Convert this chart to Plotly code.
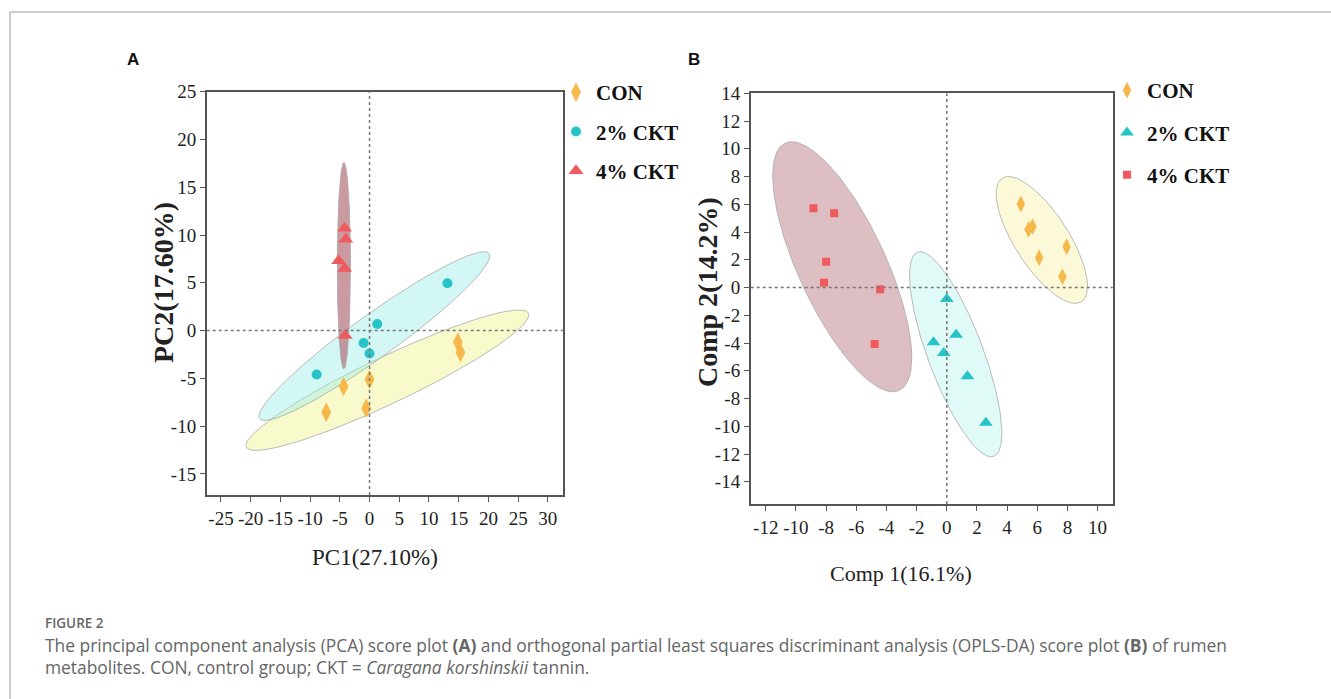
import numpy as np
import plotly.graph_objects as go

FIG_W, FIG_H = 1331, 699

groups = ["CON", "2% CKT", "4% CKT"]
colors = ["#F7B84B", "#27C4C7", "#EF5A5E"]

# ---------------- Panel A : PCA scores ----------------
pca_con_x = [14.85, 15.3, -4.37, 0.0, -7.29, -0.56]
pca_con_y = [-1.2, -2.3, -5.85, -5.12, -8.54, -8.12]
pca_ckt2_x = [13.1, 1.3, -1.0, 0.0, -8.9]
pca_ckt2_y = [4.95, 0.7, -1.3, -2.4, -4.6]
pca_ckt4_x = [-4.2, -4.0, -5.2, -4.2, -4.1]
pca_ckt4_y = [10.7, 9.55, 7.3, 6.5, -0.5]

# confidence ellipses (centre x, centre y, half-width x, half-height y, correlation)
pca_ell_cx = [3.0, 0.81, -4.32]
pca_ell_cy = [-5.19, -0.57, 6.79]
pca_ell_hw = [23.8, 19.42, 1.12]
pca_ell_hh = [7.35, 8.83, 10.8]
pca_ell_rho = [0.93, 0.95, 0.0]

pca_xticks = [-25, -20, -15, -10, -5, 0, 5, 10, 15, 20, 25, 30]
pca_yticks = [-15, -10, -5, 0, 5, 10, 15, 20, 25]

# ---------------- Panel B : OPLS-DA scores ----------------
opls_con_x = [4.91, 5.42, 5.68, 6.12, 7.94, 7.67]
opls_con_y = [6.02, 4.19, 4.39, 2.15, 2.94, 0.78]
opls_ckt2_x = [0.0, 0.62, -0.88, -0.2, 1.37, 2.59]
opls_ckt2_y = [-0.83, -3.4, -3.95, -4.72, -6.4, -9.75]
opls_ckt4_x = [-8.84, -7.47, -8.0, -8.14, -4.42, -4.78]
opls_ckt4_y = [5.71, 5.35, 1.86, 0.35, -0.13, -4.07]

opls_ell_cx = [6.30, 0.59, -6.93]
opls_ell_cy = [3.43, -4.81, 1.50]
opls_ell_hw = [3.03, 3.06, 4.61]
opls_ell_hh = [4.57, 7.39, 9.01]
opls_ell_rho = [-0.73, -0.77, -0.727]

opls_xticks = [-12, -10, -8, -6, -4, -2, 0, 2, 4, 6, 8, 10]
opls_yticks = [-14, -12, -10, -8, -6, -4, -2, 0, 2, 4, 6, 8, 10, 12, 14]


def ellipse(cx, cy, hw, hh, rho, n=240):
    t = np.linspace(0, 2 * np.pi, n)
    x = cx + hw * np.cos(t)
    y = cy + hh * (rho * np.cos(t) - np.sqrt(1 - rho ** 2) * np.sin(t))
    return x, y


def px_x(p):
    return p / FIG_W


def px_y(p):
    return (FIG_H - p) / FIG_H


fig = go.Figure()

# ellipses
fillsA = ["rgba(240,245,140,0.45)", "rgba(150,235,230,0.42)", "rgba(175,100,110,0.65)"]
fillsB = ["rgba(245,240,150,0.38)", "rgba(160,238,234,0.32)", "rgba(175,100,110,0.42)"]
for i in range(3):
    ex, ey = ellipse(pca_ell_cx[i], pca_ell_cy[i], pca_ell_hw[i], pca_ell_hh[i], pca_ell_rho[i])
    fig.add_trace(go.Scatter(x=ex, y=ey, mode="lines", fill="toself", fillcolor=fillsA[i],
                             line=dict(color="rgba(170,170,170,0.8)", width=1),
                             showlegend=False, hoverinfo="skip", xaxis="x", yaxis="y"))
for i in range(3):
    ex, ey = ellipse(opls_ell_cx[i], opls_ell_cy[i], opls_ell_hw[i], opls_ell_hh[i], opls_ell_rho[i])
    fig.add_trace(go.Scatter(x=ex, y=ey, mode="lines", fill="toself", fillcolor=fillsB[i],
                             line=dict(color="rgba(170,170,170,0.8)", width=1),
                             showlegend=False, hoverinfo="skip", xaxis="x2", yaxis="y2"))

# panel A markers
A_sets = [(pca_con_x, pca_con_y, "diamond-tall", 14),
          (pca_ckt2_x, pca_ckt2_y, "circle", 10),
          (pca_ckt4_x, pca_ckt4_y, "triangle-up", 13)]
for i, (xs, ys, sym, sz) in enumerate(A_sets):
    fig.add_trace(go.Scatter(x=xs, y=ys, mode="markers", name=groups[i],
                             marker=dict(symbol=sym, size=sz, color=colors[i], line=dict(width=0)),
                             xaxis="x", yaxis="y", legend="legend", legendgroup="a" + str(i)))

B_sets = [(opls_con_x, opls_con_y, "diamond-tall", 12),
          (opls_ckt2_x, opls_ckt2_y, "triangle-up", 12),
          (opls_ckt4_x, opls_ckt4_y, "square", 8)]
for i, (xs, ys, sym, sz) in enumerate(B_sets):
    fig.add_trace(go.Scatter(x=xs, y=ys, mode="markers", name=groups[i],
                             marker=dict(symbol=sym, size=sz, color=colors[i], line=dict(width=0)),
                             xaxis="x2", yaxis="y2", legend="legend2", legendgroup="b" + str(i)))

axis_common = dict(showgrid=False, zeroline=False, showline=True, mirror=True,
                   linecolor="#555", linewidth=1.5, ticks="outside", ticklen=5,
                   tickcolor="#555", tickwidth=1.2, tickangle=0, automargin=False,
                   tickfont=dict(family="Liberation Serif", size=19, color="#222"))


def labels(vals):
    return [str(v) for v in vals]


fig.update_layout(
    width=FIG_W, height=FIG_H,
    margin=dict(l=0, r=0, t=0, b=0, pad=0, autoexpand=False),
    paper_bgcolor="white", plot_bgcolor="white",
    xaxis=dict(domain=[px_x(206.7), px_x(562.7)], range=[-27.4, 32.5], tickvals=pca_xticks,
               ticktext=labels(pca_xticks), anchor="y", **axis_common),
    yaxis=dict(domain=[px_y(495), px_y(91.7)], range=[-17.2, 25], tickvals=pca_yticks,
               ticktext=labels(pca_yticks), anchor="x", **axis_common),
    xaxis2=dict(domain=[px_x(750.7), px_x(1112.7)], range=[-13, 11], tickvals=opls_xticks,
                ticktext=labels(opls_xticks), anchor="y2", **axis_common),
    yaxis2=dict(domain=[px_y(504), px_y(93.3)], range=[-15.6, 14], tickvals=opls_yticks,
                ticktext=labels(opls_yticks), anchor="x2", **axis_common),
    legend=dict(x=px_x(556), y=px_y(72), xanchor="left", yanchor="top",
                bgcolor="rgba(0,0,0,0)", itemsizing="trace", tracegroupgap=9,
                font=dict(family="Liberation Serif", size=21, color="#111", weight="bold")),
    legend2=dict(x=px_x(1107), y=px_y(70), xanchor="left", yanchor="top",
                 bgcolor="rgba(0,0,0,0)", itemsizing="trace", tracegroupgap=12,
                 font=dict(family="Liberation Serif", size=21, color="#111", weight="bold")),
)

# dotted zero lines
for xr, yr in [("x", "y"), ("x2", "y2")]:
    fig.add_shape(type="line", xref=xr, yref=yr + " domain", x0=0, x1=0, y0=0, y1=1,
                  line=dict(color="#777", width=1.5, dash="dot"))
    fig.add_shape(type="line", xref=xr + " domain", yref=yr, x0=0, x1=1, y0=0, y1=0,
                  line=dict(color="#777", width=1.5, dash="dot"))

# outer frame lines
fig.add_shape(type="line", xref="paper", yref="paper", x0=px_x(10), x1=1, y0=px_y(12), y1=px_y(12),
              line=dict(color="#bbb", width=1.5))
fig.add_shape(type="line", xref="paper", yref="paper", x0=px_x(10), x1=px_x(10), y0=0, y1=px_y(12),
              line=dict(color="#bbb", width=1.5))

serif = "Liberation Serif"
ann = []
# axis titles
ann.append(dict(text="PC1(27.10%)", x=px_x(375), y=px_y(557), font=dict(family=serif, size=23, color="#222")))
ann.append(dict(text="<b>PC2(17.60%)</b>", x=px_x(163), y=px_y(283), textangle=-90,
                font=dict(family=serif, size=28, color="#222")))
ann.append(dict(text="Comp 1(16.1%)", x=px_x(901), y=px_y(573), font=dict(family=serif, size=22, color="#222")))
ann.append(dict(text="<b>Comp 2(14.2%)</b>", x=px_x(707), y=px_y(292), textangle=-90,
                font=dict(family=serif, size=28, color="#222")))
# panel labels
ann.append(dict(text="<b>A</b>", x=px_x(133), y=px_y(60), font=dict(family="Liberation Sans", size=17, color="#111")))
ann.append(dict(text="<b>B</b>", x=px_x(694), y=px_y(60), font=dict(family="Liberation Sans", size=17, color="#111")))
for a in ann:
    a.update(xref="paper", yref="paper", showarrow=False, xanchor="center", yanchor="middle")
    fig.add_annotation(**a)

# caption
cap = [
    ("FIGURE 2", 623, dict(family="Open Sans", size=13.5, color="#666", weight=600)),
    ("The principal component analysis (PCA) score plot <b>(A)</b> and orthogonal partial least squares "
     "discriminant analysis (OPLS-DA) score plot <b>(B)</b> of rumen", 645,
     dict(family="Open Sans", size=17.4, color="#666")),
    ("metabolites. CON, control group; CKT = <i>Caragana korshinskii</i> tannin.", 667,
     dict(family="Open Sans", size=17.4, color="#666")),
]
for txt, yy, f in cap:
    fig.add_annotation(text=txt, x=px_x(43), y=px_y(yy), xref="paper", yref="paper",
                       showarrow=False, xanchor="left", yanchor="middle", font=f)

post = ("document.body.style.margin='0';document.body.style.padding='0';"
        "document.body.style.overflow='hidden';"
        "var d=document.getElementsByClassName('plotly-graph-div')[0];"
        "d.style.position='absolute';d.style.top='0px';d.style.left='0px';"
        "window.scrollTo(0,0);")
fig.write_html("out.html", post_script=post, config={"displayModeBar": False})
